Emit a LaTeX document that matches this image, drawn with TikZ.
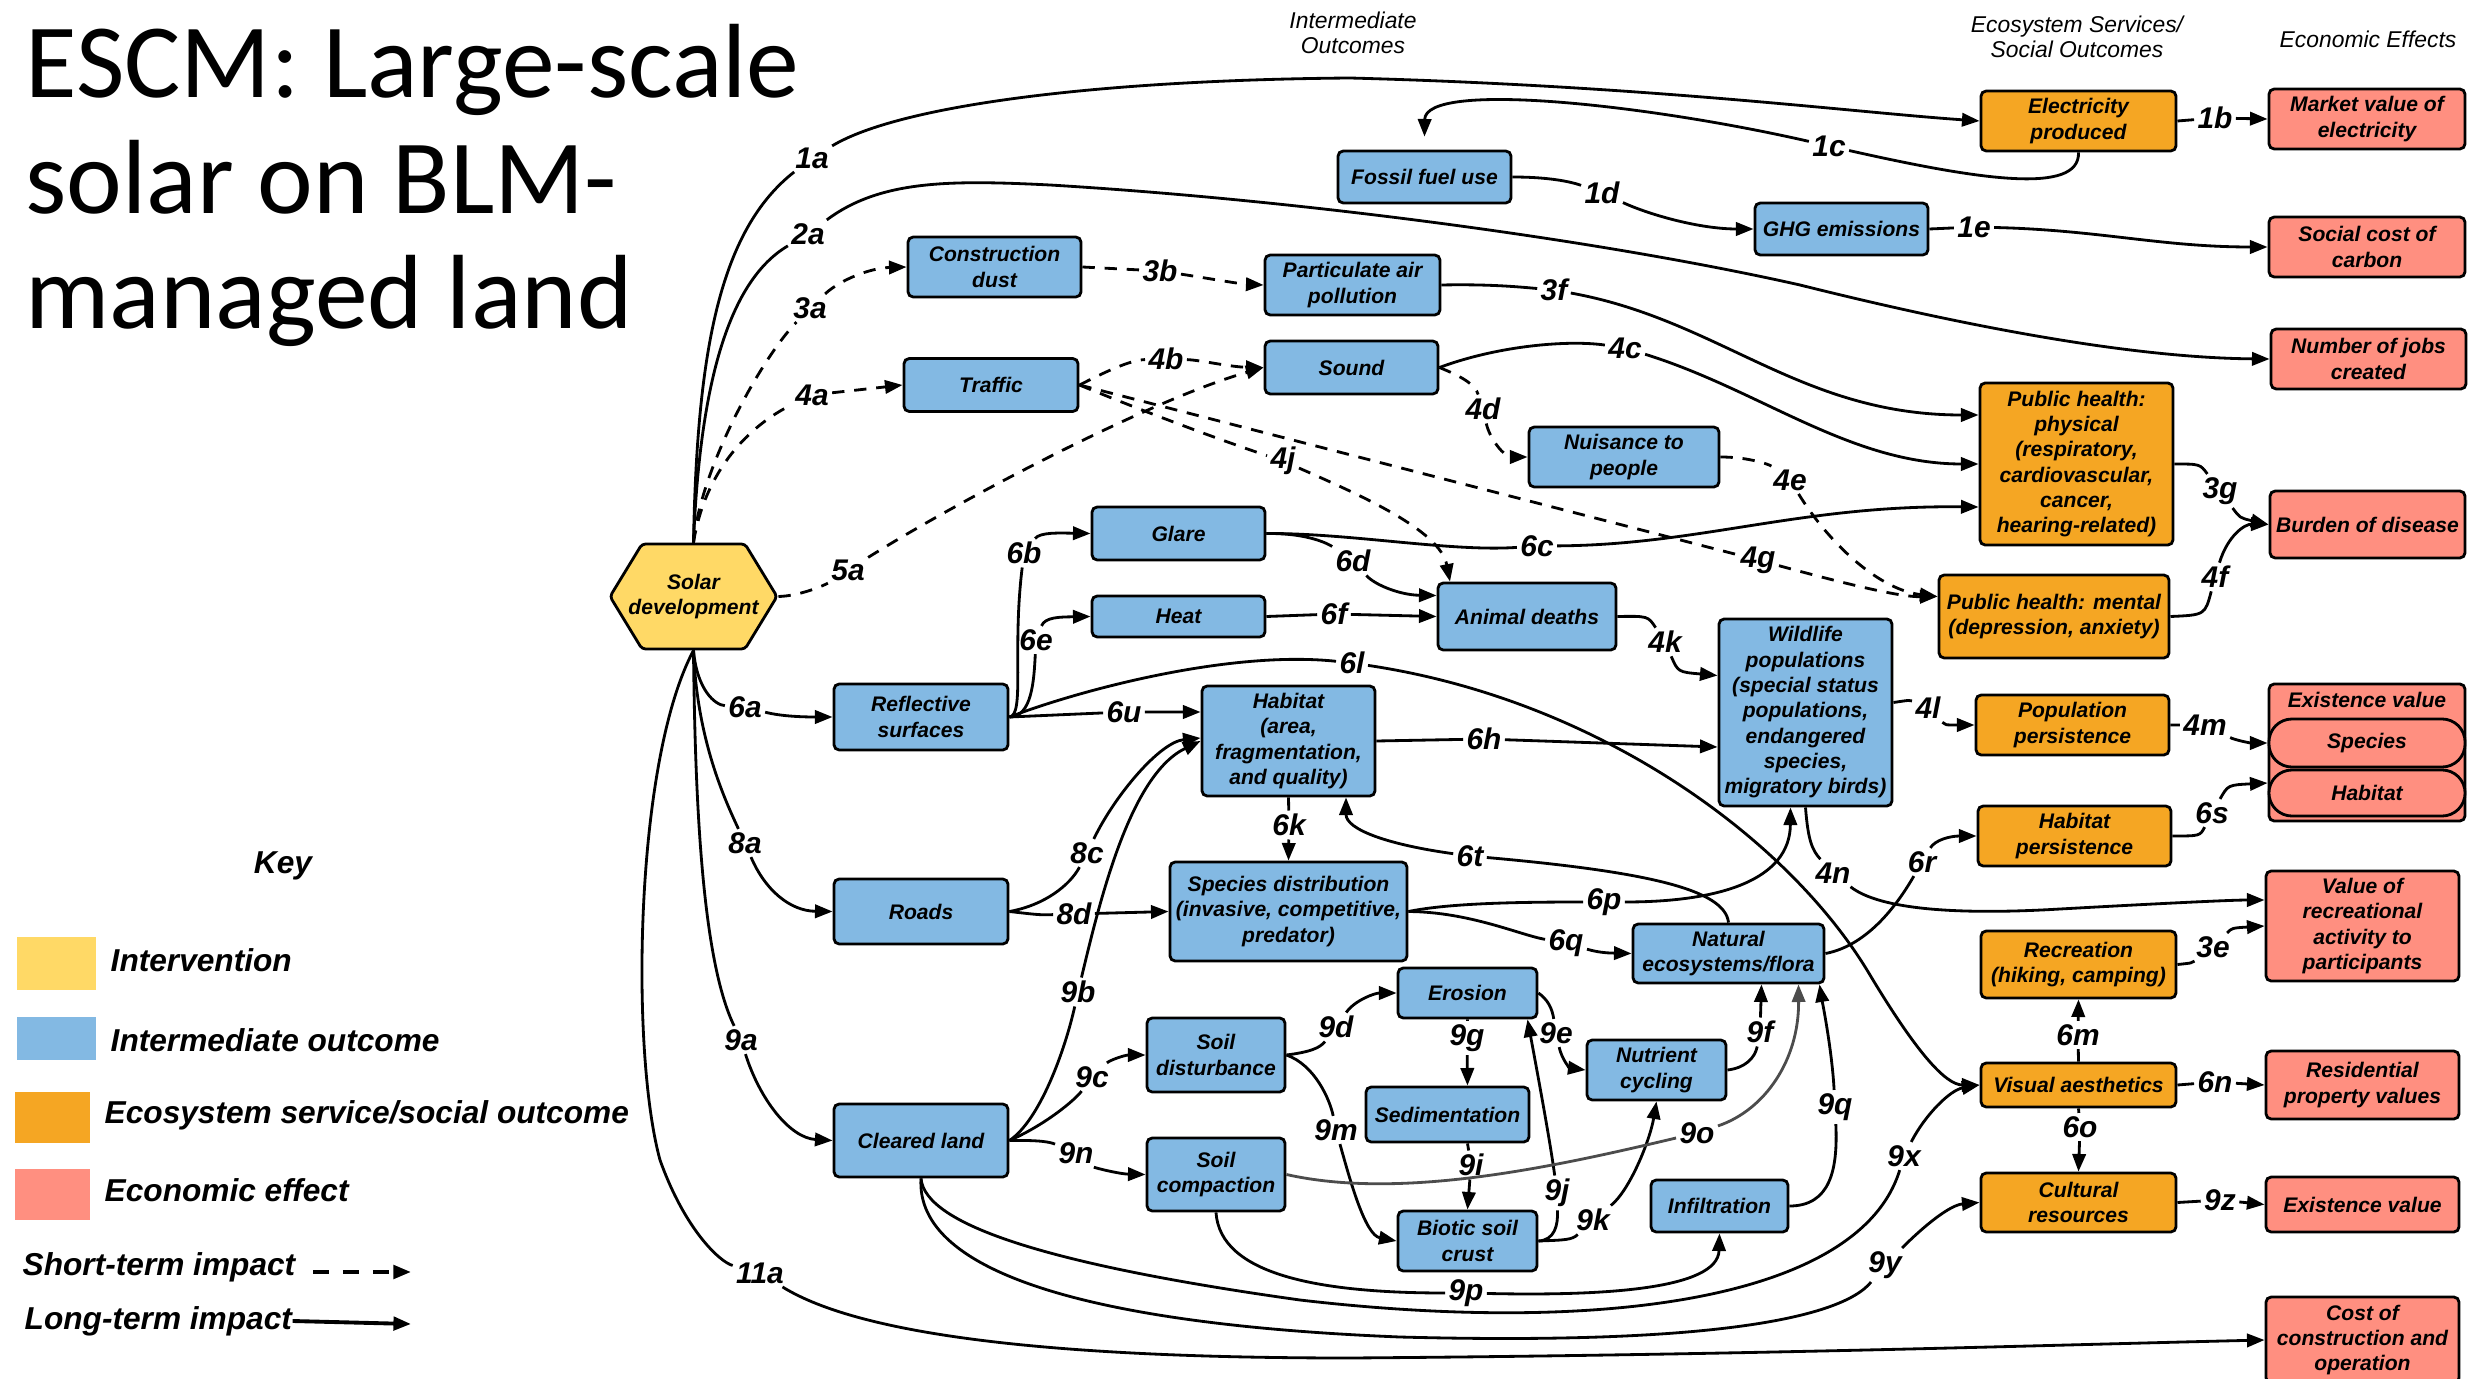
\documentclass[tikz,border=0pt]{standalone}
\usepackage{fontspec}
\setmainfont{Liberation Sans}
\newfontfamily\titlefont{Carlito}
\usetikzlibrary{arrows.meta,calc}

\definecolor{solaryellow}{RGB}{255,217,102}
\definecolor{interblue}{RGB}{131,185,227}
\definecolor{ecoorange}{RGB}{245,166,35}
\definecolor{econpink}{RGB}{255,143,128}

\begin{document}
\begin{tikzpicture}[x=0.01cm,y=0.01cm,yscale=-1,
  sz/.style 2 args={minimum width=#1cm, minimum height=#2cm},
  box/.style={draw, line width=0.8pt, rounded corners=1.5pt, align=center, inner sep=1pt,
    font=\fontsize{6}{7.2}\selectfont\bfseries\itshape},
  inter/.style={box, fill=interblue},
  eco/.style={box, fill=ecoorange},
  econ/.style={box, fill=econpink},
  lbl/.style={inner sep=0.8pt, fill=white, font=\fontsize{8.5}{9}\selectfont\bfseries\itshape},
  lt/.style={line width=0.8pt, -{Triangle[length=5pt,width=3.8pt]}},
  st/.style={lt, dash pattern=on 3.5pt off 2.8pt},
  head/.style={align=center, inner sep=0pt, font=\fontsize{6.5}{7.1}\selectfont\itshape},
  keytxt/.style={anchor=west, inner sep=0pt, font=\fontsize{9}{10}\selectfont\bfseries\itshape},
  swatch/.style={inner sep=0pt},
  titletxt/.style={anchor=base west, inner sep=0pt, font=\titlefont\fontsize{30}{32}\selectfont}]

\fill[white] (0,0) rectangle (2484,1379);
\useasboundingbox (0,0) rectangle (2484,1379);

% Title
\node[titletxt] (title1) at (25,98) {ESCM: Large-scale};
\node[titletxt] (title2) at (25,214) {solar on BLM-};
\node[titletxt] (title3) at (25,328) {managed land};

% Column headers
\node[head] (hinter) at (1353,33) {Intermediate\\Outcomes};
\node[head] (heco) at (2077,37) {Ecosystem Services/\\Social Outcomes};
\node[head] (hecon) at (2368,39) {Economic Effects};

% Key
\node[keytxt, anchor=center] (key) at (283,866) {Key};
\node[swatch, fill=solaryellow, sz={0.79}{0.53}] (kint) at (56.5,963.5) {};
\node[swatch, fill=interblue, sz={0.79}{0.43}] (kmid) at (56.5,1038.5) {};
\node[swatch, fill=ecoorange, sz={0.75}{0.51}] (keco) at (52.5,1117.5) {};
\node[swatch, fill=econpink, sz={0.75}{0.51}] (kecon) at (52.5,1194.5) {};
\node[keytxt] (tint) at (110,960) {Intervention};
\node[keytxt] (tmid) at (110,1040) {Intermediate outcome};
\node[keytxt] (teco) at (104,1115) {Ecosystem service/social outcome};
\node[keytxt] (tecon) at (104,1190) {Economic effect};
\node[keytxt] (kshort) at (22,1267) {Short-term impact};
\node[keytxt] (klong) at (24,1321) {Long-term impact};
\coordinate (sta) at (313,1272);
\coordinate (stb) at (411,1272);
\coordinate (ltb) at (411,1324);
\draw[lt, line width=1.1pt, dash pattern=on 4.5pt off 4pt] (sta) -- (stb);
\draw[lt, line width=1.1pt] (klong.east) -- (ltb);

% Intervention
\draw[line width=0.8pt, rounded corners=1pt, fill=solaryellow] (642,544) -- (745,544) -- (777,596.5) -- (745,649) -- (642,649) -- (610,596.5) -- cycle;
\node[box, draw=none, sz={1.67}{1.05}] (solar) at (693.5,596.5) {Solar\\development};

% Intermediate outcomes
\node[inter, sz={1.73}{0.52}] (fossil) at (1424.5,177) {Fossil fuel use};
\node[inter, sz={1.73}{0.52}] (ghg) at (1841.5,229) {GHG emissions};
\node[inter, sz={1.73}{0.60}] (cdust) at (994.5,267) {Construction\\dust};
\node[inter, sz={1.75}{0.60}] (pm) at (1352.5,285) {Particulate air\\pollution};
\node[inter, sz={1.74}{0.53}] (traffic) at (991,385) {Traffic};
\node[inter, sz={1.73}{0.53}] (sound) at (1351.5,367.5) {Sound};
\node[inter, sz={1.90}{0.60}] (nuis) at (1624,457) {Nuisance to\\people};
\node[inter, sz={1.73}{0.53}] (glare) at (1178.5,533.5) {Glare};
\node[inter, sz={1.73}{0.41}] (heat) at (1178.5,616.5) {Heat};
\node[inter, sz={1.78}{0.67}] (adeath) at (1527,616.5) {Animal deaths};
\node[inter, sz={1.74}{0.66}] (refl) at (921,717) {Reflective\\surfaces};
\node[inter, sz={1.73}{1.10}] (habitat) at (1288.5,741) {Habitat\\(area,\\fragmentation,\\and quality)};
\node[inter, sz={1.73}{1.87}] (wild) at (1805.5,712.5) {Wildlife\\populations\\(special status\\populations,\\endangered\\species,\\migratory birds)};
\node[inter, sz={1.74}{0.65}] (roads) at (921,911.5) {Roads};
\node[inter, sz={2.37}{0.99}] (species) at (1288.5,911.5) {Species distribution\\(invasive, competitive,\\predator)};
\node[inter, sz={1.91}{0.59}] (natural) at (1728.5,953.5) {Natural\\ecosystems/flora};
\node[inter, sz={1.39}{0.50}] (erosion) at (1467.5,993) {Erosion};
\node[inter, sz={1.38}{0.74}] (soild) at (1216,1055) {Soil\\disturbance};
\node[inter, sz={1.39}{0.60}] (nutri) at (1656.5,1070) {Nutrient\\cycling};
\node[inter, sz={1.63}{0.55}] (sed) at (1447.5,1114.5) {Sedimentation};
\node[inter, sz={1.38}{0.73}] (soilc) at (1216,1174.5) {Soil\\compaction};
\node[inter, sz={1.74}{0.73}] (cleared) at (921,1140.5) {Cleared land};
\node[inter, sz={1.39}{0.60}] (biotic) at (1467.5,1241) {Biotic soil\\crust};
\node[inter, sz={1.37}{0.52}] (infil) at (1719.5,1206) {Infiltration};

% Ecosystem services / social outcomes
\node[eco, sz={1.95}{0.60}] (elec) at (2078.5,121) {Electricity\\produced};
\node[eco, sz={1.93}{1.62}] (phys) at (2076.5,464) {Public health:\\physical\\(respiratory,\\cardiovascular,\\cancer,\\hearing-related)};
\node[eco, sz={2.30}{0.83}] (mental) at (2054,616.5) {Public health: mental\\(depression, anxiety)};
\node[eco, sz={1.93}{0.60}] (popp) at (2072.5,725) {Population\\persistence};
\node[eco, sz={1.93}{0.60}] (habp) at (2074.5,836) {Habitat\\persistence};
\node[eco, sz={1.95}{0.67}] (rec) at (2078.5,964.5) {Recreation\\(hiking, camping)};
\node[eco, sz={1.95}{0.44}] (visual) at (2078.5,1085) {Visual aesthetics};
\node[eco, sz={1.95}{0.59}] (cultural) at (2078.5,1202.5) {Cultural\\resources};

% Economic effects
\node[econ, sz={1.96}{0.60}] (market) at (2367,119) {Market value of\\electricity};
\node[econ, sz={1.96}{0.60}] (scc) at (2367,247) {Social cost of\\carbon};
\node[econ, sz={1.95}{0.60}] (jobs) at (2368.5,359) {Number of jobs\\created};
\node[econ, sz={1.95}{0.67}] (burden) at (2367.5,524.5) {Burden of disease};
\node[econ, sz={1.96}{1.37}] (existbox) at (2367,752.5) {};
\node[box, draw=none] (existtxt) at (2367,700) {Existence value};
\node[econ, rounded corners=2.3mm, sz={1.96}{0.48}] (exspec) at (2367,743) {Species};
\node[econ, rounded corners=2.3mm, sz={1.96}{0.46}] (exhab) at (2367,793) {Habitat};
\node[econ, sz={1.93}{1.10}] (vrec) at (2362.5,926) {Value of\\recreational\\activity to\\participants};
\node[econ, sz={1.93}{0.68}] (resid) at (2362.5,1085) {Residential\\property values};
\node[econ, sz={1.93}{0.55}] (exist2) at (2362.5,1204.5) {Existence value};
\node[econ, sz={1.93}{0.86}] (cost) at (2362.5,1340) {Cost of\\construction and\\operation};

% Edge labels
\node[lbl] (l1a) at (812,158) {1a};
\node[lbl] (l1b) at (2215,118) {1b};
\node[lbl] (l1c) at (1829,146) {1c};
\node[lbl] (l1d) at (1602,193) {1d};
\node[lbl] (l1e) at (1974,227) {1e};
\node[lbl] (l2a) at (808,234) {2a};
\node[lbl] (l3a) at (810,308) {3a};
\node[lbl] (l3b) at (1160,271) {3b};
\node[lbl] (l3e) at (2213,947) {3e};
\node[lbl] (l3f) at (1554,290) {3f};
\node[lbl] (l3g) at (2220,491) {3g};
\node[lbl] (l4a) at (812,395) {4a};
\node[lbl] (l4b) at (1166,359) {4b};
\node[lbl] (l4c) at (1625,348) {4c};
\node[lbl] (l4d) at (1483,409) {4d};
\node[lbl] (l4e) at (1790,480) {4e};
\node[lbl] (l4f) at (2215,577) {4f};
\node[lbl] (l4g) at (1758,560) {4g};
\node[lbl] (l4j) at (1283,461) {4j};
\node[lbl] (l4k) at (1665,642) {4k};
\node[lbl] (l4l) at (1928,708) {4l};
\node[lbl] (l4m) at (2205,725) {4m};
\node[lbl] (l4n) at (1833,873) {4n};
\node[lbl] (l5a) at (848,570) {5a};
\node[lbl] (l6a) at (745,707) {6a};
\node[lbl] (l6b) at (1024,553) {6b};
\node[lbl] (l6c) at (1537,546) {6c};
\node[lbl] (l6d) at (1353,561) {6d};
\node[lbl] (l6e) at (1036,640) {6e};
\node[lbl] (l6f) at (1334,614) {6f};
\node[lbl] (l6h) at (1484,739) {6h};
\node[lbl] (l6k) at (1289,825) {6k};
\node[lbl] (l6l) at (1352,663) {6l};
\node[lbl] (l6m) at (2078,1035) {6m};
\node[lbl] (l6n) at (2215,1082) {6n};
\node[lbl] (l6o) at (2080,1127) {6o};
\node[lbl] (l6p) at (1604,902) {6p};
\node[lbl] (l6q) at (1566,943) {6q};
\node[lbl] (l6r) at (1922,862) {6r};
\node[lbl] (l6s) at (2212,813) {6s};
\node[lbl] (l6t) at (1470,856) {6t};
\node[lbl] (l6u) at (1124,712) {6u};
\node[lbl] (l8a) at (745,843) {8a};
\node[lbl] (l8c) at (1087,853) {8c};
\node[lbl] (l8d) at (1074,914) {8d};
\node[lbl] (l9a) at (741,1040) {9a};
\node[lbl] (l9b) at (1078,992) {9b};
\node[lbl] (l9c) at (1092,1077) {9c};
\node[lbl] (l9d) at (1336,1027) {9d};
\node[lbl] (l9e) at (1556,1033) {9e};
\node[lbl] (l9f) at (1760,1032) {9f};
\node[lbl] (l9g) at (1467,1038) {9g};
\node[lbl] (l9i) at (1471,1165) {9i};
\node[lbl] (l9j) at (1557,1193) {9j};
\node[lbl] (l9k) at (1593,1220) {9k};
\node[lbl] (l9m) at (1336,1130) {9m};
\node[lbl] (l9n) at (1076,1153) {9n};
\node[lbl] (l9o) at (1697,1133) {9o};
\node[lbl] (l9p) at (1466,1293) {9p};
\node[lbl] (l9q) at (1835,1107) {9q};
\node[lbl] (l9x) at (1904,1156) {9x};
\node[lbl] (l9y) at (1885,1265) {9y};
\node[lbl] (l9z) at (2220,1200) {9z};
\node[lbl] (l11a) at (760,1273) {11a};

% Energy and jobs
\draw[lt] (solar.north) .. controls (697,350) and (720,230) .. (l1a) .. controls (900,105) and (1100,80) .. (1350,78) .. controls (1650,86) and (1850,112) .. (elec.west);
\draw[lt] (elec.east) -- (l1b) -- (market.west);
\draw[lt] (elec.south) .. controls (2080,195) and (1980,180) .. (l1c) .. controls (1650,105) and (1425,80) .. ($(fossil.north)+(0,-13)$);
\draw[lt] (fossil.east) .. controls (1560,177) and (1580,185) .. (l1d) .. controls (1650,215) and (1700,229) .. (ghg.west);
\draw[lt] (ghg.east) -- (l1e) .. controls (2100,230) and (2160,247) .. (scc.west);
\draw[lt] (solar.north) .. controls (700,380) and (730,280) .. (l2a) .. controls (880,180) and (950,180) .. (1050,185) .. controls (1300,200) and (1600,240) .. (1800,285) .. controls (2000,335) and (2150,358) .. (jobs.west);

% Dust, traffic and sound
\draw[st] (solar.north) .. controls (700,470) and (760,360) .. (l3a) .. controls (840,280) and (870,268) .. (cdust.west);
\draw[st] (cdust.east) -- (l3b) .. controls (1200,277) and (1240,284) .. (pm.west);
\draw[lt] (pm.east) .. controls (1490,284) and (1520,287) .. (l3f) .. controls (1720,320) and (1800,415) .. ($(phys.west)+(0,-49)$);
\draw[lt] (phys.east) .. controls (2200,464) .. (l3g) .. controls (2240,518) .. (burden.west);
\draw[st] (solar.north) .. controls (705,470) and (750,425) .. (l4a) -- (traffic.west);
\draw[st] (traffic.east) .. controls (1105,372) and (1130,360) .. (l4b) .. controls (1200,360) and (1230,367) .. (sound.west);
\draw[st] (traffic.east) .. controls (1140,410) and (1220,440) .. (l4j) .. controls (1360,495) and (1440,530) .. ($(adeath.north)+(-77,0)$);
\draw[st] (traffic.east) -- (l4g) .. controls (1850,585) and (1900,597) .. ($(mental.west)+(0,-20)$);
\draw[st] (solar.east) .. controls (800,596) and (825,585) .. (l5a) .. controls (960,500) and (1150,400) .. (sound.west);
\draw[lt] (sound.east) .. controls (1500,345) and (1570,340) .. (l4c) .. controls (1760,390) and (1850,464) .. (phys.west);
\draw[st] (sound.east) .. controls (1465,378) and (1475,385) .. (l4d) .. controls (1490,440) and (1505,457) .. (nuis.west);
\draw[st] (nuis.east) .. controls (1750,457) and (1770,465) .. (l4e) .. controls (1830,545) and (1880,590) .. ($(mental.west)+(0,-20)$);
\draw[lt] (mental.east) .. controls (2205,615) .. (l4f) .. controls (2228,535) and (2245,524) .. (burden.west);

% Reflective surfaces
\draw[lt] (solar.south) .. controls (697,690) and (715,705) .. (l6a) .. controls (780,716) and (800,717) .. (refl.west);
\draw[lt] (refl.east) .. controls (1025,715) and (1012,650) .. (l6b) .. controls (1040,532) and (1060,533) .. (glare.west);
\draw[lt] (refl.east) .. controls (1032,717) and (1034,680) .. (l6e) .. controls (1045,617) and (1060,617) .. (heat.west);
\draw[lt] (refl.east) -- (l6u) -- ($(habitat.west)+(0,-29)$);
\draw[lt] (refl.east) .. controls (1080,690) and (1230,650) .. (l6l) .. controls (1600,700) and (1790,840) .. (1870,975) .. controls (1915,1050) and (1945,1085) .. (visual.west);
\draw[lt] (glare.east) .. controls (1350,533) and (1450,552) .. (l6c) .. controls (1700,545) and (1800,505) .. ($(phys.west)+(0,43)$);
\draw[lt] (glare.east) .. controls (1310,533) and (1330,545) .. (l6d) .. controls (1375,585) and (1400,595) .. ($(adeath.west)+(0,-21)$);
\draw[lt] (heat.east) -- (l6f) -- (adeath.west);
\draw[lt] (adeath.east) .. controls (1648,616) .. (l4k) .. controls (1678,672) .. ($(wild.west)+(0,-37)$);
\draw[lt] (habitat.east) -- (l6h) -- ($(wild.west)+(0,34.5)$);
\draw[lt] (habitat.south) -- (l6k) -- (species.north);
\draw[lt] (natural.north) .. controls (1725,890) and (1650,872) .. (l6t) .. controls (1390,845) and (1346,830) .. ($(habitat.south)+(57.5,0)$);
\draw[lt] (species.east) .. controls (1450,903) and (1520,902) .. (l6p) .. controls (1720,902) and (1790,880) .. ($(wild.south)+(-15,0)$);
\draw[lt] (species.east) .. controls (1470,912) and (1520,935) .. (l6q) .. controls (1600,953) and (1610,953) .. (natural.west);
\draw[lt] (natural.east) .. controls (1870,945) and (1900,900) .. (l6r) .. controls (1935,840) and (1950,836) .. (habp.west);
\draw[lt] (habp.east) .. controls (2200,836) .. (l6s) .. controls (2228,785) .. ($(exhab.west)+(0,-10)$);
\draw[lt] ($(wild.east)+(0,-10)$) .. controls (1910,700) .. (l4l) .. controls (1945,725) .. (popp.west);
\draw[lt] (popp.east) -- (l4m) .. controls (2235,740) and (2250,743) .. (exspec.west);
\draw[lt] (wild.south) .. controls (1808,840) and (1812,850) .. (l4n) .. controls (1880,910) and (1960,915) .. (2060,909) .. controls (2150,904) and (2230,900) .. ($(vrec.west)+(0,-26)$);
\draw[lt] (rec.east) .. controls (2192,963) .. (l3e) .. controls (2232,928) .. (vrec.west);
\draw[lt] (visual.north) -- (l6m) -- (rec.south);
\draw[lt] (visual.south) -- (l6o) -- (cultural.north);
\draw[lt] (visual.east) -- (l6n) -- (resid.west);
\draw[lt] (cultural.east) -- (l9z) -- (exist2.west);

% Roads
\draw[lt] (solar.south) .. controls (697,740) and (725,800) .. (l8a) .. controls (765,890) and (790,911) .. (roads.west);
\draw[lt] (roads.east) .. controls (1045,905) and (1070,885) .. (l8c) .. controls (1115,795) and (1160,742) .. ($(habitat.west)+(0,-3)$);
\draw[lt] (roads.east) .. controls (1040,915) .. (l8d) -- (species.west);

% Cleared land and soils
\draw[lt] (solar.south) .. controls (695,800) and (702,960) .. (l9a) .. controls (760,1100) and (790,1138) .. (cleared.west);
\draw[lt] (cleared.east) .. controls (1040,1120) and (1065,1050) .. (l9b) .. controls (1100,900) and (1130,775) .. (habitat.west);
\draw[lt] (cleared.east) .. controls (1045,1125) and (1075,1100) .. (l9c) .. controls (1110,1060) and (1125,1055) .. (soild.west);
\draw[lt] (cleared.east) .. controls (1040,1140) and (1050,1142) .. (l9n) .. controls (1095,1168) and (1120,1174) .. (soilc.west);
\draw[lt] (soild.east) .. controls (1310,1052) and (1320,1048) .. (l9d) .. controls (1355,1000) and (1375,993) .. (erosion.west);
\draw[lt] (soild.east) .. controls (1315,1065) and (1330,1100) .. (l9m) .. controls (1350,1180) and (1365,1235) .. (biotic.west);
\draw[lt] (erosion.east) .. controls (1548,1000) and (1552,1008) .. (l9e) .. controls (1562,1060) and (1570,1068) .. (nutri.west);
\draw[lt] (erosion.south) -- (l9g) -- (erosion.south |- sed.north);
\draw[lt] (biotic.east) .. controls (1555,1240) and (1558,1225) .. (l9j) .. controls (1550,1140) and (1535,1060) .. ($(erosion.south)+(60,0)$);
\draw[lt] (biotic.east) .. controls (1565,1240) and (1572,1240) .. (l9k) .. controls (1630,1190) and (1650,1140) .. (nutri.south);
\draw[lt] (nutri.east) .. controls (1745,1068) and (1755,1058) .. (l9f) -- ($(natural.south)+(33,0)$);
\draw[lt, draw=black!70] (soilc.east) .. controls (1400,1200) and (1550,1168) .. (l9o) .. controls (1765,1110) and (1799,1060) .. ($(natural.south)+(70,0)$);
\draw[lt] (sed.south -| biotic.north) -- (l9i) -- (biotic.north);
\draw[lt] (infil.east) .. controls (1830,1206) and (1838,1170) .. (l9q) .. controls (1832,1050) and (1822,1000) .. ($(natural.south)+(91,0)$);
\draw[lt] (soilc.south) .. controls (1220,1275) and (1320,1293) .. (l9p) .. controls (1600,1296) and (1718,1290) .. (infil.south);
\draw[lt] (cleared.south) .. controls (925,1225) and (1050,1265) .. (1300,1300) .. controls (1600,1335) and (1860,1300) .. (l9x) .. controls (1925,1115) and (1950,1090) .. (visual.west);
\draw[lt] (cleared.south) .. controls (915,1275) and (1100,1325) .. (1400,1337) .. controls (1700,1345) and (1840,1320) .. (l9y) .. controls (1925,1225) and (1950,1205) .. (cultural.west);
\draw[lt] (solar.south) .. controls (635,760) and (630,1050) .. (660,1160) .. controls (685,1230) and (720,1262) .. (l11a) .. controls (860,1335) and (1050,1358) .. (1350,1358) .. controls (1750,1355) and (2050,1345) .. (cost.west);

\end{tikzpicture}
\end{document}
